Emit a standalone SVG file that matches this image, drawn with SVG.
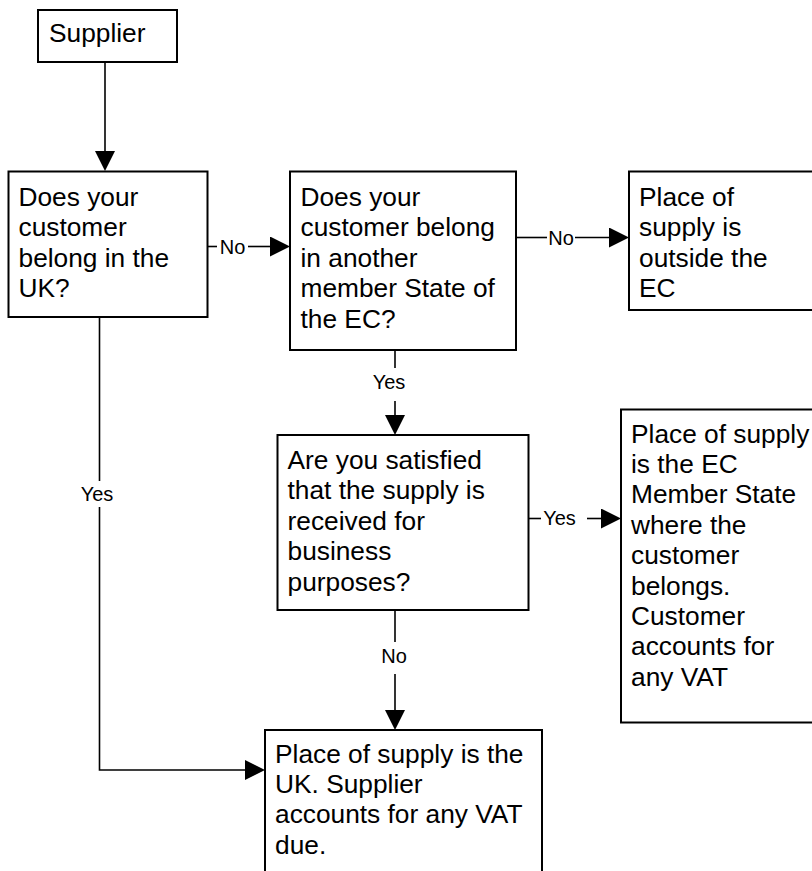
<svg xmlns="http://www.w3.org/2000/svg" width="812" height="871" viewBox="0 0 812 871">
<style>
.box{fill:#fff;stroke:#000;stroke-width:2}
.t{font-family:"Liberation Sans",Arial,sans-serif;font-size:26.3px;fill:#000}
.lbl{font-family:"Liberation Sans",Arial,sans-serif;font-size:20px;fill:#000;text-anchor:middle}
.ln{fill:none;stroke:#000;stroke-width:1.6}
</style>
<defs>
<marker id="ah" markerUnits="userSpaceOnUse" markerWidth="21" markerHeight="21" refX="0" refY="10" orient="auto" viewBox="0 0 21 21">
<path d="M0,0 L20,10 L0,20 z" fill="#000"/>
</marker>
</defs>
<rect width="812" height="871" fill="#fff"/>
<g id="connectors">
<line class="ln" x1="105" y1="62" x2="105" y2="151" marker-end="url(#ah)"/>
<line class="ln" x1="207" y1="246.5" x2="217" y2="246.5"/>
<text class="lbl" x="232.5" y="253.5">No</text>
<line class="ln" x1="248" y1="246.5" x2="270" y2="246.5" marker-end="url(#ah)"/>
<line class="ln" x1="516" y1="237.5" x2="547" y2="237.5"/>
<text class="lbl" x="561" y="244.5">No</text>
<line class="ln" x1="575" y1="237.5" x2="609" y2="237.5" marker-end="url(#ah)"/>
<line class="ln" x1="395" y1="350" x2="395" y2="368"/>
<text class="lbl" x="389" y="388.5">Yes</text>
<line class="ln" x1="395" y1="401" x2="395" y2="415" marker-end="url(#ah)"/>
<line class="ln" x1="528.5" y1="518.5" x2="541" y2="518.5"/>
<text class="lbl" x="559.5" y="525">Yes</text>
<line class="ln" x1="587" y1="518.5" x2="601" y2="518.5" marker-end="url(#ah)"/>
<line class="ln" x1="395" y1="610" x2="395" y2="642"/>
<text class="lbl" x="394" y="662.5">No</text>
<line class="ln" x1="395" y1="674" x2="395" y2="710" marker-end="url(#ah)"/>
<line class="ln" x1="99.5" y1="317" x2="99.5" y2="481"/>
<text class="lbl" x="97" y="501">Yes</text>
<polyline class="ln" points="99.5,507 99.5,770 245,770" marker-end="url(#ah)"/>
</g>
<g id="supplier">
<rect class="box" x="38" y="10" width="139" height="52"/>
<text class="t" x="49" y="42">Supplier</text>
</g>
<g id="q-uk">
<rect class="box" x="8.5" y="171.5" width="199" height="145.5"/>
<text class="t" x="18.5"><tspan x="18.5" y="206">Does your</tspan><tspan x="18.5" y="236.4">customer</tspan><tspan x="18.5" y="266.8">belong in the</tspan><tspan x="18.5" y="297.2">UK?</tspan></text>
</g>
<g id="q-ec">
<rect class="box" x="290" y="171.5" width="226" height="178.5"/>
<text class="t"><tspan x="300.5" y="206">Does your</tspan><tspan x="300.5" y="236.4">customer belong</tspan><tspan x="300.5" y="266.8">in another</tspan><tspan x="300.5" y="297.2">member State of</tspan><tspan x="300.5" y="327.6">the EC?</tspan></text>
</g>
<g id="outside-ec">
<rect class="box" x="629" y="171.5" width="200" height="138.5"/>
<text class="t"><tspan x="639" y="206">Place of</tspan><tspan x="639" y="236.4">supply is</tspan><tspan x="639" y="266.8">outside the</tspan><tspan x="639" y="297.2">EC</tspan></text>
</g>
<g id="q-business">
<rect class="box" x="277.5" y="435" width="251" height="175"/>
<text class="t"><tspan x="287.5" y="469">Are you satisfied</tspan><tspan x="287.5" y="499.4">that the supply is</tspan><tspan x="287.5" y="529.8">received for</tspan><tspan x="287.5" y="560.2">business</tspan><tspan x="287.5" y="590.6">purposes?</tspan></text>
</g>
<g id="ec-member">
<rect class="box" x="621" y="409.5" width="210" height="313"/>
<text class="t"><tspan x="631" y="442.5">Place of supply</tspan><tspan x="631" y="472.9">is the EC</tspan><tspan x="631" y="503.3">Member State</tspan><tspan x="631" y="533.7">where the</tspan><tspan x="631" y="564.1">customer</tspan><tspan x="631" y="594.5">belongs.</tspan><tspan x="631" y="624.9">Customer</tspan><tspan x="631" y="655.3">accounts for</tspan><tspan x="631" y="685.7">any VAT</tspan></text>
</g>
<g id="uk-supply">
<rect class="box" x="265" y="730" width="277" height="160"/>
<text class="t"><tspan x="275" y="762.5">Place of supply is the</tspan><tspan x="275" y="792.9">UK. Supplier</tspan><tspan x="275" y="823.3">accounts for any VAT</tspan><tspan x="275" y="853.7">due.</tspan></text>
</g>
</svg>
